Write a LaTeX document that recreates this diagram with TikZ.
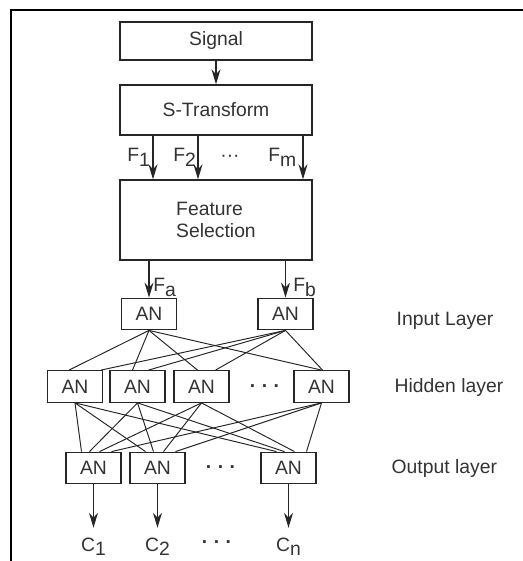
\documentclass[tikz,border=0pt]{standalone}
\usepackage{fontspec}
\setmainfont{Liberation Sans}
\usetikzlibrary{arrows.meta}

\newcommand{\lowsub}[1]{\raisebox{-0.4ex}{#1}}

\begin{document}
\begin{tikzpicture}[
  font=\fontsize{11}{13}\selectfont, text=black!80,
  box/.style={draw=black!85, line width=0.75pt, minimum width=3.84cm, inner sep=0pt},
  an/.style={draw=black!85, line width=0.75pt, minimum width=1.1cm, minimum height=0.63cm, inner sep=0pt},
  arr/.style={draw=black!85, line width=0.75pt, -{Stealth[length=3mm,width=1.8mm]}},
  link/.style={draw=black!85, line width=0.55pt},
  lab/.style={anchor=base west, inner sep=0pt},
  dotrow/.style={anchor=base, inner sep=0pt, font=\fontsize{11}{13}\selectfont\bfseries}
]

% Canvas and frame
\useasboundingbox (0,0) rectangle (10.46,11.22);
\draw[line width=1.1pt] (0.22,0) -- (0.22,11.02) -- (10.46,11.02);

% Signal chain
\node[box, minimum height=0.76cm] (signal) at (4.32,10.40) {Signal};
\node[box, minimum height=1.0cm] (stran) at (4.32,9.02) {S-Transform};
\node[box, minimum height=1.6cm, align=left] (fsel) at (4.32,6.82) {Feature\\Selection};

\draw[arr] (signal) -- (stran);
\foreach \dx in {-1.26,-0.36,1.74}
  \draw[arr] ([xshift=\dx cm]stran.south) -- ([xshift=\dx cm]fsel.north);

% Feature labels
\node[lab] (f1) at (2.54,7.98) {F\lowsub{1}};
\node[lab] (f2) at (3.46,7.98) {F\lowsub{2}};
\node[lab] (fdots) at (4.40,7.98) {···};
\node[lab] (fm) at (5.36,7.98) {F\lowsub{m}};

% Input layer
\node[an] (in1) at (2.98,4.94) {AN};
\node[an] (in2) at (5.71,4.94) {AN};
\draw[arr] (in1 |- fsel.south) -- (in1.north);
\draw[arr] (in2 |- fsel.south) -- (in2.north);
\node[lab] (fa) at (3.06,5.38) {F\lowsub{a}};
\node[lab] (fb) at (5.86,5.38) {F\lowsub{b}};

% Hidden layer
\foreach \n/\x in {1/1.50,2/2.75,3/4.03,4/6.43}
  \node[an] (h\n) at (\x,3.49) {AN};
\node[dotrow] (hdots) at (5.30,3.36) {· · ·};

% Output layer
\foreach \n/\x in {1/1.87,2/3.15,3/5.77}
  \node[an] (o\n) at (\x,1.86) {AN};
\node[dotrow] (odots) at (4.42,1.74) {· · ·};

% Links
\foreach \h/\a/\b in {h1/-0.12/0.52,h2/-0.10/0.22,h3/-0.08/0.28,h4/0/0.02}{
  \draw[link] (in1.south) -- ([xshift=\a cm]\h.north);
  \draw[link] (in2.south) -- ([xshift=\b cm]\h.north);
}
\foreach \h/\d in {h1/-0.24,h2/-0.08,h3/0.12,h4/0.36}
  \foreach \o in {o1,o2,o3}
    \draw[link] (\h.south) -- ([xshift=\d cm]\o.north);

% Classes
\foreach \n/\x/\t in {1/1.87/1,2/3.15/2,3/5.77/n}{
  \node[anchor=base] (c\n) at (\x,0.20) {C\lowsub{\t}};
  \draw[arr, shorten >=2pt] (o\n) -- (c\n);
}
\node[dotrow] (cdots) at (4.34,0.26) {· · ·};

% Layer names
\node[anchor=west] (lin) at (7.81,4.80) {Input Layer};
\node[anchor=west] (lhid) at (7.77,3.46) {Hidden layer};
\node[anchor=west] (lout) at (7.71,1.84) {Output layer};

\end{tikzpicture}
\end{document}
